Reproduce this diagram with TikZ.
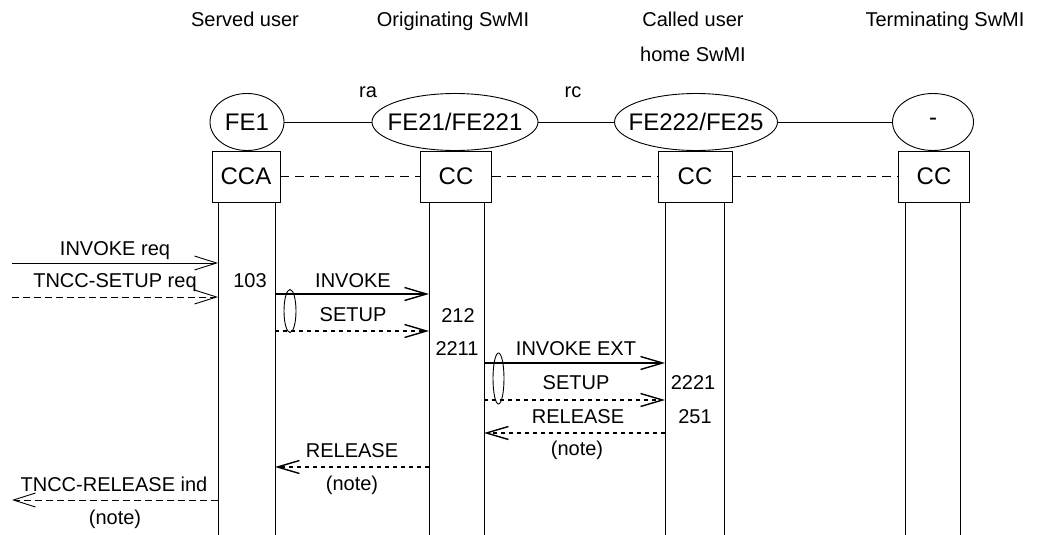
\documentclass[tikz,border=0pt]{standalone}
\usepackage{fontspec}
\setmainfont{Liberation Sans}
\usetikzlibrary{arrows.meta,shapes.geometric}
\tikzset{
  txt/.style={font=\fontsize{20}{35}\selectfont,inner sep=0pt,anchor=base},
  felbl/.style={font=\fontsize{24}{28}\selectfont,inner sep=0pt},
  fe/.style={draw,ellipse,inner sep=0pt,minimum height=57},
  ccbox/.style={draw,fill=white,inner sep=0pt,minimum height=51,font=\fontsize{24}{28}\selectfont},
  msg/.style={line width=1.4pt,-{Straight Barb[length=22pt,width=13pt]}},
  msgdash/.style={msg,dash pattern=on 4pt off 4pt},
  ext/.style={line width=0.9pt,-{Straight Barb[length=22pt,width=14pt]}},
  extdash/.style={ext,dash pattern=on 7pt off 4pt},
  loopmark/.style={draw,ellipse,inner sep=0pt,line width=0.9pt}
}
\begin{document}
\begin{tikzpicture}[x=1pt,y=-1pt,line width=0.9pt]
  \useasboundingbox (0,0) rectangle (1039,535);

  % headings
  \node[txt] (t1) at (245,27) {Served user};
  \node[txt] (t2) at (453,27) {Originating SwMI};
  \node[txt] (t3) at (693,27) {Called user};
  \node[txt] (t3b) at (693,62) {home SwMI};
  \node[txt] (t4) at (945,27) {Terminating SwMI};
  \node[txt] (ra) at (368,97) {ra};
  \node[txt] (rc) at (573,97) {rc};

  % functional entities
  \node[fe,minimum width=74,label={[felbl]center:FE1}] (fe1) at (247,122) {};
  \node[fe,minimum width=166,label={[felbl]center:FE21/FE221}] (fe21) at (455,122) {};
  \node[fe,minimum width=163,label={[felbl]center:FE222/FE25}] (fe222) at (696,122) {};
  \node[fe,minimum width=81,label={[felbl]center:-}] (fet) at (933,122) {};
  \draw (fe1) -- (fe21);
  \draw (fe21) -- (fe222);
  \draw (fe222) -- (fet);

  \node[ccbox,minimum width=68] (cca) at (246,176.5) {CCA};
  \node[ccbox,minimum width=71] (cco) at (456,176.5) {CC};
  \node[ccbox,minimum width=74] (cch) at (695,176.5) {CC};
  \node[ccbox,minimum width=71] (cct) at (934,176.5) {CC};
  \draw[dash pattern=on 9pt off 6pt] (cca) -- (cco);
  \draw[dash pattern=on 9pt off 6pt] (cco) -- (cch);
  \draw[dash pattern=on 9pt off 6pt] (cch) -- (cct);

  % life lines
  \coordinate (env) at (12,0);
  \coordinate (l1a) at (218,202);
  \coordinate (l1b) at (275,202);
  \coordinate (l2a) at (429,202);
  \coordinate (l2b) at (484,202);
  \coordinate (l3a) at (665,202);
  \coordinate (l3b) at (724,202);
  \coordinate (l4a) at (905,202);
  \coordinate (l4b) at (960,202);
  \foreach \l in {l1a,l1b,l2a,l2b,l3a,l3b,l4a,l4b}
    \draw (\l) -- (\l |- 0,535);

  % served user side
  \draw[ext] (env |- 0,263) -- (l1a |- 0,263);
  \node[txt] (m1) at (115,255) {INVOKE req};
  \draw[extdash] (env |- 0,297) -- (l1a |- 0,297);
  \node[txt] (m2) at (115,287) {TNCC-SETUP req};
  \node[txt] (s103) at (250,287) {103};

  % originating SwMI
  \draw[msg] (l1b |- 0,294) -- (l2a |- 0,294);
  \node[txt] (m3) at (353,287) {INVOKE};
  \draw[msgdash] (l1b |- 0,331) -- (l2a |- 0,331);
  \node[txt] (m4) at (353,321) {SETUP};
  \node[loopmark,minimum width=12,minimum height=43] (loopa) at (290,311) {};
  \node[txt] (s212) at (458,322) {212};
  \node[txt] (s2211) at (457,355) {2211};

  % called user home SwMI
  \draw[msg] (l2b |- 0,363) -- (l3a |- 0,363);
  \node[txt] (m5) at (576,355) {INVOKE EXT};
  \draw[msgdash] (l2b |- 0,400) -- (l3a |- 0,400);
  \node[txt] (m6) at (576,389) {SETUP};
  \node[loopmark,minimum width=11,minimum height=51] (loopb) at (498.5,378.5) {};
  \node[txt] (s2221) at (693,389) {2221};
  \node[txt] (s251) at (695,423) {251};

  % release back
  \draw[msgdash] (l3a |- 0,433) -- (l2b |- 0,433);
  \node[txt] (m7) at (578,423) {RELEASE};
  \node[txt] (n1) at (577,455) {(note)};
  \draw[msgdash] (l2a |- 0,467) -- (l1b |- 0,467);
  \node[txt] (m8) at (352,457) {RELEASE};
  \node[txt] (n2) at (352,490) {(note)};
  \draw[extdash] (l1a |- 0,500) -- (env |- 0,500);
  \node[txt] (m9) at (114,491) {TNCC-RELEASE ind};
  \node[txt] (n3) at (115,524) {(note)};
\end{tikzpicture}
\end{document}
